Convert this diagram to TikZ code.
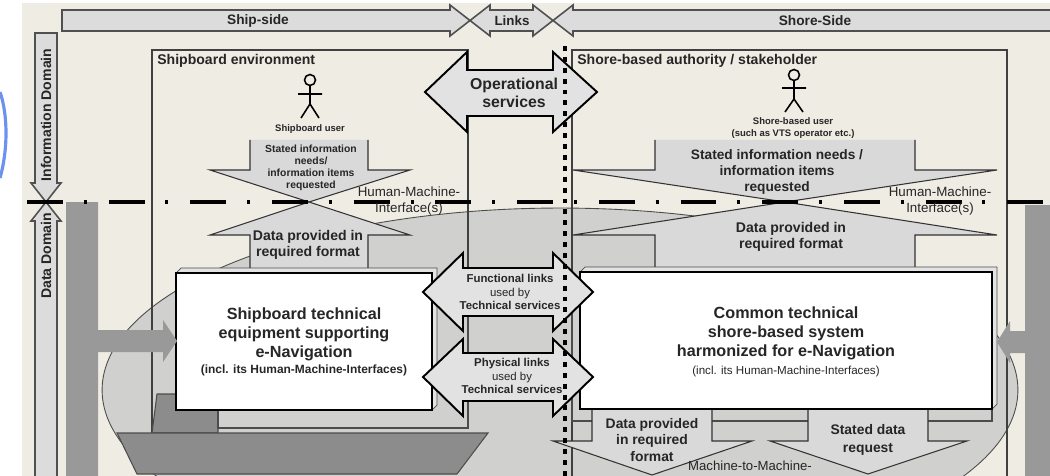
\documentclass[tikz,border=0pt]{standalone}
\usepackage{fontspec}
\setmainfont{Liberation Sans}
\definecolor{paper}{RGB}{239,236,228}
\definecolor{bandgray}{RGB}{220,220,220}
\definecolor{bandline}{RGB}{80,80,80}
\definecolor{arrowgray}{RGB}{217,217,217}
\definecolor{linkgray}{RGB}{226,226,226}
\definecolor{stip}{RGB}{208,208,206}
\definecolor{feedgray}{RGB}{153,153,153}
\definecolor{hullgray}{RGB}{140,140,140}
\definecolor{inkblue}{RGB}{60,110,235}
\tikzset{
  band/.style={fill=bandgray, draw=bandline, line width=0.9pt},
  infofill/.style={fill=arrowgray},
  infoline/.style={draw=black!80, line width=0.6pt},
  linkarrow/.style={fill=linkgray, draw=black, line width=1.1pt},
  techbox/.style={fill=white, draw=black, line width=0.8pt},
  boxface/.style={fill=gray!22, draw=gray!60!black, line width=0.4pt},
  envline/.style={draw=black!75, line width=0.7pt},
  layerline/.style={draw=black!70, line width=0.6pt},
  feed/.style={fill=feedgray},
  hull/.style={fill=hullgray, draw=black!70, line width=0.6pt},
  lbl/.style={inner sep=0pt, text=black!85, align=center},
  figure/.style={draw=black, line width=0.9pt}
}
\begin{document}
\begin{tikzpicture}[x=0.02cm, y=-0.02cm, line join=miter]
\useasboundingbox (0,0) rectangle (1050,476);
\clip (0,0) rectangle (1050,476);

% page and drawing area
\fill[white] (0,0) rectangle (1050,476);
\fill[paper] (22,3) rectangle (1050,476);
\draw[inkblue, line width=1.8pt, opacity=0.75] (0,92) .. controls (8,115) and (8,150) .. (0,178);

% side bands along the top
\draw[band] (62,10) -- (450,10) -- (450,5) -- (470,20.5) -- (450,36) -- (450,31) -- (62,31) -- cycle;
\draw[band] (490,10) -- (533,10) -- (533,5) -- (553,20.5) -- (533,36) -- (533,31) -- (490,31) -- (490,36) -- (470,20.5) -- (490,5) -- cycle;
\draw[band] (1060,10) -- (573,10) -- (573,5) -- (553,20.5) -- (573,36) -- (573,31) -- (1060,31);
% domain bands along the left
\draw[band] (35,33) -- (57,33) -- (57,183) -- (61,183) -- (46,202) -- (31,183) -- (35,183) -- cycle;
\draw[band] (46,202) -- (61,221) -- (57,221) -- (57,480) -- (35,480) -- (35,221) -- (31,221) -- cycle;

% data domain area
\draw[fill=stip, draw=black!70, line width=0.5pt] (560,390) ellipse [x radius=9.16cm, y radius=3.64cm];

% environments
\draw[envline] (152,433) -- (152,50) -- (468,50) -- (468,428);
\draw[envline] (572,480) -- (572,50) -- (1007,50) -- (1007,480);

% ship-side information needs / data provided
\fill[infofill] (250,140) -- (368,140) -- (368,170) -- (410,170) -- (309,202) -- (210,170) -- (250,170) -- cycle;
\draw[infoline] (250,140) -- (250,170) -- (210,170) -- (309,202) -- (410,170) -- (368,170) -- (368,140);
\fill[infofill] (309,202) -- (410,235) -- (368,235) -- (368,280) -- (250,280) -- (250,235) -- (210,235) -- cycle;
\draw[infoline] (250,280) -- (250,235) -- (210,235) -- (309,202) -- (410,235) -- (368,235) -- (368,280);

% shore-side information needs / data provided
\fill[infofill] (655,140) -- (915,140) -- (915,170) -- (997,170) -- (785,202) -- (573,170) -- (655,170) -- cycle;
\draw[infoline] (655,140) -- (655,170) -- (573,170) -- (785,202) -- (997,170) -- (915,170) -- (915,140);
\fill[infofill] (785,202) -- (997,235) -- (915,235) -- (915,280) -- (655,280) -- (655,235) -- (573,235) -- cycle;
\draw[infoline] (655,280) -- (655,235) -- (573,235) -- (785,202) -- (997,235) -- (915,235) -- (915,280);

% ship
\draw[hull] (157,394) -- (218,394) -- (218,433) -- (152,433) -- cycle;
\draw[hull] (117,433) -- (488,433) -- (457,474) -- (137,474) -- cycle;

% layers behind the technical systems
\fill[stip] (218,300) rectangle (468,428);
\draw[layerline] (218,300) -- (218,428) -- (468,428) -- (468,268);
\fill[stip] (572,300) rectangle (992,421);
\draw[layerline] (572,300) -- (572,421) -- (992,421) -- (992,300);

% machine-to-machine exchange below the shore system
\fill[infofill] (592,400) -- (712,400) -- (712,441) -- (752,441) -- (652,475) -- (553,441) -- (592,441) -- cycle;
\draw[infoline] (592,400) -- (592,441) -- (553,441) -- (652,475) -- (752,441) -- (712,441) -- (712,400);
\fill[infofill] (808,400) -- (928,400) -- (928,441) -- (967,441) -- (868,474) -- (770,441) -- (808,441) -- cycle;
\draw[infoline] (808,400) -- (808,441) -- (770,441) -- (868,474) -- (967,441) -- (928,441) -- (928,400);

% technical systems (with raised faces)
\draw[boxface] (176,273) -- (181,268) -- (437,268) -- (437,405) -- (432,410) -- (432,273) -- cycle;
\draw[techbox] (176,273) rectangle (432,410);
\draw[boxface] (580,272) -- (585,267) -- (997,267) -- (997,404) -- (992,409) -- (992,272) -- cycle;
\draw[techbox] (580,272) rectangle (992,409);

% feeds into the technical systems
\fill[feed] (66,202) -- (98,202) -- (98,330) -- (163,330) -- (163,320) -- (177,341) -- (163,362) -- (163,352) -- (98,352) -- (98,480) -- (66,480) -- cycle;
\fill[feed] (1025,205) -- (1055,205) -- (1055,480) -- (1025,480) -- (1025,353) -- (1010,353) -- (1010,363) -- (997,342) -- (1010,321) -- (1010,331) -- (1025,331) -- cycle;

% links between ship and shore
\draw[linkarrow] (425,92) -- (467,52) -- (467,70) -- (553,70) -- (553,52) -- (597,92) -- (553,132) -- (553,116) -- (467,116) -- (467,132) -- cycle;
\draw[linkarrow] (423,292) -- (463,253) -- (463,268) -- (553,268) -- (553,253) -- (593,292) -- (553,331) -- (553,316) -- (463,316) -- (463,331) -- cycle;
\draw[linkarrow] (423,377) -- (463,339) -- (463,353) -- (553,353) -- (553,339) -- (593,377) -- (553,416) -- (553,401) -- (463,401) -- (463,416) -- cycle;

% domain border and ship/shore border
\draw[black, line width=2.3pt, dash pattern=on 20.4pt off 11.9pt on 1.7pt off 12.5pt] (27,202) -- (1047,202);
\draw[black, line width=2pt, dash pattern=on 2.8pt off 3.4pt] (565,46) -- (565,478);

% users
\draw[figure] (310,80) circle [radius=0.11cm];
\draw[figure] (310,85.5) -- (310,104) (298,94) -- (322,94) (301,118) -- (310,104) -- (319,118);
\draw[figure] (794,75) circle [radius=0.11cm];
\draw[figure] (794,80.5) -- (794,99) (782,88) -- (806,88) (785,112) -- (794,99) -- (803,112);

% labels
\node[lbl, font=\bfseries\fontsize{7.8}{9}\selectfont] (lShip) at (258,20.5) {Ship-side};
\node[lbl, font=\bfseries\fontsize{7.6}{9}\selectfont] (lLinks) at (512,20.5) {Links};
\node[lbl, font=\bfseries\fontsize{7.8}{9}\selectfont] (lShore) at (815,20.5) {Shore-Side};
\node[lbl, font=\bfseries\fontsize{8}{9}\selectfont, rotate=90] (lInfo) at (46,115) {Information Domain};
\node[lbl, font=\bfseries\fontsize{8}{9}\selectfont, rotate=90] (lData) at (46,256) {Data Domain};

\node[lbl, font=\bfseries\fontsize{8}{9}\selectfont, anchor=west] (lEnvShip) at (157,61) {Shipboard environment};
\node[lbl, font=\bfseries\fontsize{8}{9}\selectfont, anchor=west] (lEnvShore) at (577,61) {Shore-based authority / stakeholder};

\node[lbl, font=\bfseries\fontsize{5.4}{6.5}\selectfont] (lUserShip) at (310,129) {Shipboard user};
\node[lbl, font=\bfseries\fontsize{5.4}{6.8}\selectfont] (lUserShore) at (793,128) {Shore-based user\\(such as VTS operator etc.)};

\node[lbl, font=\bfseries\fontsize{9}{10.6}\selectfont] (lOps) at (514,93) {Operational\\services};

\node[lbl, font=\bfseries\fontsize{5.9}{6.8}\selectfont] (lNeedsShip) at (311,168) {Stated information\\needs/\\information items\\requested};
\node[lbl, font=\bfseries\fontsize{8}{9.4}\selectfont] (lDataShip) at (308,245) {Data provided in\\required format};
\node[lbl, font=\fontsize{7.6}{9.6}\selectfont] (lHmiShip) at (409,201) {Human-Machine-\\Interface(s)};

\node[lbl, font=\bfseries\fontsize{7.8}{9}\selectfont] (lNeedsShore) at (777,172) {Stated information needs /\\information items\\requested};
\node[lbl, font=\bfseries\fontsize{8}{9.4}\selectfont] (lDataShore) at (791,237) {Data provided in\\required format};
\node[lbl, font=\fontsize{7.6}{9.6}\selectfont] (lHmiShore) at (940,201) {Human-Machine-\\Interface(s)};

\node[lbl, font=\bfseries\fontsize{9.2}{10.8}\selectfont] (lTechShip) at (304,334) {Shipboard technical\\equipment supporting\\e-Navigation};
\node[lbl, font=\bfseries\fontsize{6.8}{8}\selectfont] (lHmiShipBox) at (304,370) {(incl. its Human-Machine-Interfaces)};
\node[lbl, font=\bfseries\fontsize{9.2}{10.8}\selectfont] (lTechShore) at (786,333) {Common technical\\shore-based system\\harmonized for e-Navigation};
\node[lbl, font=\fontsize{6.6}{8}\selectfont] (lHmiShoreBox) at (786,371) {(incl. its Human-Machine-Interfaces)};

\node[lbl, font=\fontsize{6.5}{7.9}\selectfont] (lFunc) at (510,292) {\textbf{Functional links}\\used by\\\textbf{Technical services}};
\node[lbl, font=\fontsize{6.5}{7.9}\selectfont] (lPhys) at (512,376) {\textbf{Physical links}\\used by\\\textbf{Technical services}};

\node[lbl, font=\bfseries\fontsize{7.9}{9.4}\selectfont] (lDataM2M) at (652,440) {Data provided\\in required\\format};
\node[lbl, font=\bfseries\fontsize{7.9}{10}\selectfont] (lRequest) at (868,440) {Stated data\\request};
\node[lbl, font=\fontsize{7.5}{9}\selectfont] (lM2M) at (750,466) {Machine-to-Machine-};
\end{tikzpicture}
\end{document}
